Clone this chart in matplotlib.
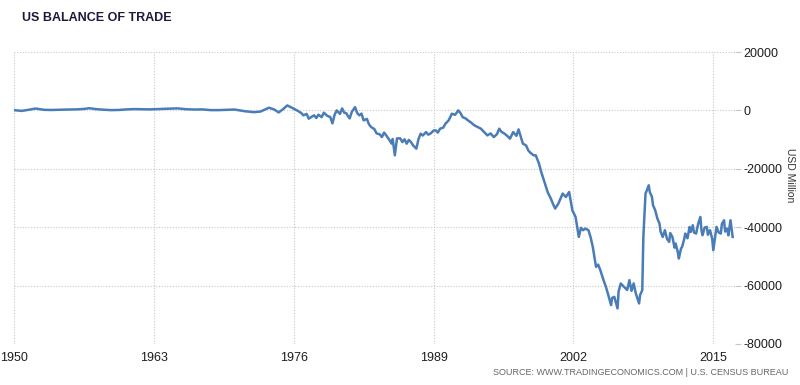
import matplotlib
matplotlib.use('Agg')
import matplotlib.pyplot as plt

plt.rcParams['axes.unicode_minus'] = False
plt.rcParams['font.family'] = ['Liberation Sans', 'DejaVu Sans']

years = [
    1950.0, 1950.7, 1951.5, 1952.0, 1952.8, 1953.5, 1954.3, 1955.0, 1955.8,
    1956.5, 1957.0, 1957.6, 1958.3, 1959.0, 1959.7, 1960.5, 1961.2, 1961.9,
    1962.6, 1963.3, 1964.5, 1965.2, 1966.0, 1966.8, 1967.5, 1968.3, 1969.0,
    1969.8, 1970.5, 1971.0, 1971.5, 1972.3, 1972.9, 1973.7, 1974.2, 1974.6,
    1975.0, 1975.4, 1975.9, 1976.4, 1976.7, 1976.9, 1977.2, 1977.4, 1977.7,
    1977.9, 1978.1, 1978.3, 1978.6, 1978.8, 1979.1, 1979.4, 1979.6, 1979.8,
    1980.0, 1980.3, 1980.5, 1980.7, 1980.9, 1981.0, 1981.2, 1981.4, 1981.7,
    1981.9, 1982.1, 1982.3, 1982.5, 1982.8, 1983.0, 1983.2, 1983.5, 1983.7,
    1984.0, 1984.2, 1984.4, 1984.6, 1984.9, 1985.1, 1985.2, 1985.4, 1985.6,
    1985.9, 1986.1, 1986.3, 1986.5, 1986.7, 1986.9, 1987.1, 1987.4, 1987.6,
    1987.8, 1988.0, 1988.3, 1988.5, 1988.7, 1989.0, 1989.2, 1989.4, 1989.6,
    1989.9, 1990.1, 1990.4, 1990.7, 1991.0, 1991.3, 1991.5, 1991.7, 1992.0,
    1992.2, 1992.5, 1992.8, 1993.1, 1993.4, 1993.7, 1994.0, 1994.3, 1994.6,
    1994.9, 1995.1, 1995.3, 1995.6, 1995.9, 1996.1, 1996.4, 1996.7, 1996.9,
    1997.1, 1997.3, 1997.6, 1997.8, 1998.0, 1998.3, 1998.5, 1998.8, 1999.0,
    1999.2, 1999.4, 1999.6, 1999.9, 2000.1, 2000.3, 2000.6, 2000.8, 2001.0,
    2001.3, 2001.6, 2001.9, 2002.2, 2002.5, 2002.7, 2002.9, 2003.1, 2003.4,
    2003.6, 2003.8, 2004.1, 2004.3, 2004.5, 2004.8, 2005.0, 2005.2, 2005.5,
    2005.6, 2005.8, 2006.1, 2006.2, 2006.4, 2006.7, 2007.0, 2007.2, 2007.4,
    2007.6, 2007.8, 2008.1, 2008.2, 2008.4, 2008.5, 2008.7, 2008.8, 2009.0,
    2009.1, 2009.3, 2009.4, 2009.6, 2009.8, 2010.0, 2010.1, 2010.3, 2010.5,
    2010.7, 2010.9, 2011.0, 2011.2, 2011.4, 2011.5, 2011.7, 2011.8, 2012.0,
    2012.1, 2012.3, 2012.4, 2012.6, 2012.8, 2012.9, 2013.1, 2013.2, 2013.4,
    2013.6, 2013.8, 2013.9, 2014.0, 2014.2, 2014.4, 2014.5, 2014.7, 2014.9,
    2015.0, 2015.2, 2015.3, 2015.5, 2015.7, 2015.8, 2016.0, 2016.1, 2016.3,
    2016.4, 2016.6, 2016.7, 2016.8,
]
balance = [
    100, -170, 300, 650, 200, 150, 250, 300, 350,
    500, 750, 450, 250, 100, 150, 350, 450, 400,
    350, 450, 600, 700, 400, 300, 350, 100, 100,
    200, 300, 0, -300, -600, -400, 920, 300, -700,
    400, 1700, 790, -200, -900, -1700, -1200, -2840, -2100,
    -1700, -2600, -1470, -2300, -790, -1800, -2290, -4450, -1500,
    0, -1200, 680, -800, -1000, -1700, -2740, -500, 1130,
    -900, -1700, -1100, -3420, -2900, -4800, -5710, -6400, -7870,
    -8200, -9130, -7600, -8550, -10200, -11390, -9800, -15390, -9580,
    -9580, -10840, -9900, -11390, -10100, -10840, -12000, -13100, -9800,
    -7970, -8600, -7420, -8300, -7970, -6900, -6840, -7600, -6260,
    -5900, -4550, -3420, -1130, -1500, 0, -900, -2290, -2800,
    -3420, -4200, -5130, -5700, -6260, -7400, -8550, -7900, -9130,
    -8100, -6260, -7300, -7970, -8900, -9680, -7420, -8700, -6500,
    -9000, -11390, -12000, -13680, -14500, -15390, -15390, -18230, -21000,
    -23360, -25600, -27940, -30200, -32000, -33620, -31910, -30200, -28490,
    -29650, -27940, -34200, -36490, -43330, -40200, -41040, -40460, -41040,
    -43500, -46750, -53590, -52800, -54720, -58140, -60200, -62690, -66690,
    -64200, -63850, -67820, -62000, -59270, -60430, -61500, -58140, -61800,
    -59270, -62690, -66110, -63200, -61560, -43330, -28490, -27600, -25650,
    -28000, -29650, -32500, -34200, -37000, -38750, -41500, -43330, -41040,
    -44000, -45040, -42000, -43330, -47000, -45590, -48500, -50720, -47300,
    -46750, -44000, -42170, -43800, -39910, -41600, -39330, -41800, -42170,
    -38800, -36490, -41000, -42750, -40100, -39910, -42600, -41040, -44000,
    -47880, -42500, -39910, -41800, -42170, -38900, -37620, -41500, -40460,
    -42800, -37620, -40500, -43330,
]

tick_years = [1950, 1963, 1976, 1989, 2002, 2015]
tick_values = [20000, 0, -20000, -40000, -60000, -80000]

fig = plt.figure(figsize=(8, 3.85), dpi=100)
ax = fig.add_axes([0.0175, 0.1065, 0.901, 0.7584])

ax.plot(years, balance, color='#4a7cb7', linewidth=1.8, solid_joinstyle='round')

ax.set_xlim(1950, 2017.0)
ax.set_ylim(-80000, 20000)
ax.set_xticks(tick_years)
ax.set_yticks(tick_values)
ax.yaxis.tick_right()

for s in ax.spines.values():
    s.set_visible(False)

ax.grid(True, color='#c8c8c8', linestyle=(0, (1, 1.5)), linewidth=0.8)
ax.tick_params(axis='x', length=0, pad=6, labelsize=9, labelcolor='#1e1e1e')
ax.tick_params(axis='y', length=4, color='#c8c8c8', pad=2, labelsize=9,
               labelcolor='#1e1e1e')

fig.text(0.988, 0.545, 'USD Million', rotation=270, fontsize=7.5,
         color='#333333', ha='center', va='center')
fig.text(0.0275, 0.953, 'US BALANCE OF TRADE', fontsize=9, color='#1a1a3a',
         va='center', ha='left', fontweight='bold')
fig.text(0.985, 0.02, 'SOURCE: WWW.TRADINGECONOMICS.COM | U.S. CENSUS BUREAU',
         fontsize=6.5, color='#666666', ha='right', va='bottom')

fig.savefig('out.png', dpi=100)
